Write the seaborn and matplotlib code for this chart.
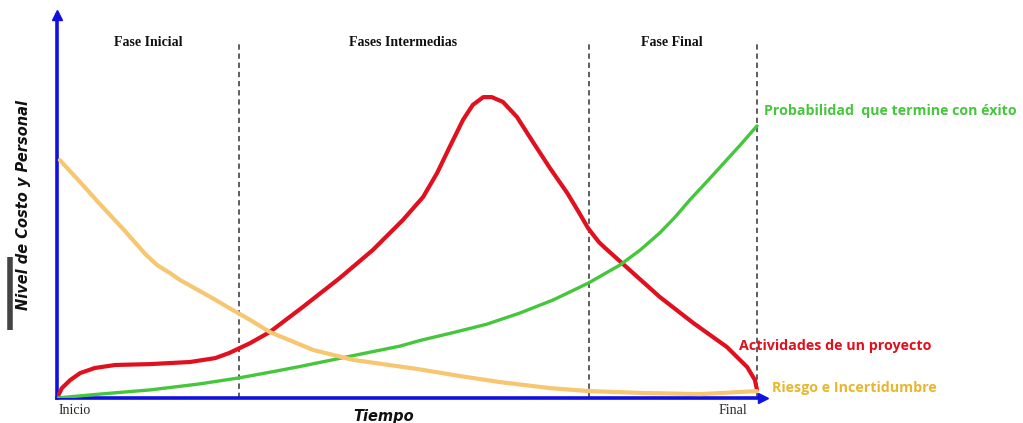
import matplotlib
matplotlib.use("Agg")
import matplotlib.pyplot as plt
import seaborn as sns
import pandas as pd
from matplotlib.lines import Line2D

# ---- data (x: time 0..100, y: level) ----
red_x = [0, 0.7, 1.9, 3.3, 5.4, 8.3, 13.3, 19, 22.6, 24.6, 27.6, 30.4, 35.1, 40.4,
         45.1, 49.4, 52.3, 54.3, 56.1, 58, 59.4, 60.9, 62.1, 63.7, 65.7, 68, 70.4,
         72.9, 74.4, 75.9, 77.4, 78.3, 80.7, 86.1, 90.9, 95.7, 98.6, 99.7, 100]
red_y = [0, 3.3, 6, 8.3, 10, 11, 11.3, 12, 13.3, 15, 18.3, 22, 30.3, 40,
         49.3, 59.3, 67, 75, 83.7, 92.7, 97.7, 100.3, 100.3, 98.7, 93.7, 85.3, 76.7,
         68.3, 62.5, 56.5, 52, 50, 45, 33.7, 25, 17, 10.3, 6, 2.7]

green_x = [0, 6.1, 13.3, 20.4, 26, 30.9, 34.7, 41.4, 49, 51.9, 56.6, 61.4, 66.1,
           70.9, 75.9, 80.4, 83.3, 86.1, 88.3, 90.4, 93.3, 97.6, 100]
green_y = [0, 1.3, 2.7, 4.7, 6.7, 8.8, 10.5, 13.7, 17.3, 19.2, 21.8, 24.6, 28.3,
           32.7, 38.3, 44.3, 49.3, 55, 60.3, 66, 73.3, 84.3, 90.7]

yellow_x = [0.4, 3.3, 6.1, 9.7, 12.6, 14.3, 16.1, 17.6, 21.9, 24.6, 27.6, 30.4,
            36.6, 42.3, 51.4, 57.6, 63.3, 70.4, 76, 83.3, 91.9, 100]
yellow_y = [79.3, 72, 64.7, 55.7, 48, 44.3, 41.7, 39.3, 33.7, 30, 26, 22,
            16, 12.7, 9.7, 7.3, 5.3, 3.3, 2.3, 1.7, 1.3, 2.3]

phase_bounds = [26, 76, 100]
phase_names = ["Fase Inicial", "Fases Intermedias", "Fase Final"]
phase_centers = [13, 49.4, 87.9]

df = pd.concat([
    pd.DataFrame({"x": red_x, "y": red_y, "s": "Actividades"}),
    pd.DataFrame({"x": green_x, "y": green_y, "s": "Probabilidad"}),
    pd.DataFrame({"x": yellow_x, "y": yellow_y, "s": "Riesgo"}),
])

sns.set_style("white")
plt.rcParams["font.family"] = ["DejaVu Sans"]

RED = "#e0101e"
GREEN = "#46c63c"
YEL = "#f7c670"
BLUE = "#1010e0"

fig = plt.figure(figsize=(10.23, 4.23), dpi=100)
ax = fig.add_axes([57 / 1023, 25 / 423, 706 / 1023, 383 / 423])

palette = {"Actividades": RED, "Probabilidad": GREEN, "Riesgo": YEL}
sizes = {"Actividades": 3.0, "Probabilidad": 2.4, "Riesgo": 3.0}
for name, g in df.groupby("s"):
    sns.lineplot(data=g, x="x", y="y", sort=False, estimator=None, color=palette[name],
                 linewidth=sizes[name], ax=ax, solid_capstyle="round",
                 solid_joinstyle="round", zorder=3)

ax.set_xlim(0, 706 / 7)
ax.set_ylim(0, 383 / 3)

# phase dividers
for b in phase_bounds:
    ax.vlines(b, 0, 118.7, colors="#333333", linestyles=(0, (3.5, 2.5)), linewidth=1.1, zorder=2)
for c, n in zip(phase_centers, phase_names):
    ax.text(c, 118.5, n, ha="center", va="center", fontsize=10, fontweight="bold",
            family="Liberation Serif", color="#111111")

# axes styling: blue arrows
for s in ["top", "right"]:
    ax.spines[s].set_visible(False)
for s in ["left", "bottom"]:
    ax.spines[s].set_color(BLUE)
    ax.spines[s].set_linewidth(2.6)
ax.plot(1, 0, ">", color=BLUE, markersize=7, transform=ax.transAxes, clip_on=False)
ax.plot(0, 1, "^", color=BLUE, markersize=7, transform=ax.transAxes, clip_on=False)
ax.set_xticks([])
ax.set_yticks([])
ax.set_xlabel("")
ax.set_ylabel("")

# series labels
ax.text(101, 95.7, "Probabilidad  que termine con éxito", color=GREEN, fontsize=10.2,
        fontweight="bold", family="Open Sans", va="center", ha="left", clip_on=False)
ax.text(97.4, 17.3, "Actividades de un proyecto", color=RED, fontsize=10.3,
        fontweight="bold", family="Open Sans", va="center", ha="left", clip_on=False, zorder=4)
ax.text(102.1, 3.3, "Riesgo e Incertidumbre", color="#e9b62c", fontsize=10.3,
        fontweight="bold", family="Open Sans", va="center", ha="left", clip_on=False)

# axis texts
fig.text(59 / 1023, 1 - 410 / 423, "Inicio", fontsize=10, family="Liberation Serif",
         va="center", ha="left")
fig.text(719 / 1023, 1 - 410 / 423, "Final", fontsize=10, family="Liberation Serif",
         va="center", ha="left")
fig.text(384 / 1023, 1 - 416 / 423, "Tiempo", fontsize=10.5, fontweight="bold",
         style="italic", va="center", ha="center", color="#111111")
fig.text(24 / 1023, 1 - 205 / 423, "Nivel de Costo y Personal", fontsize=10.5,
         fontweight="bold", style="italic", rotation=90, va="center", ha="center",
         color="#111111")
fig.add_artist(Line2D([10 / 1023, 10 / 1023], [1 - 257 / 423, 1 - 330 / 423],
                      color="#444444", linewidth=4, solid_capstyle="butt",
                      transform=fig.transFigure))

fig.savefig("out.png", dpi=100)
